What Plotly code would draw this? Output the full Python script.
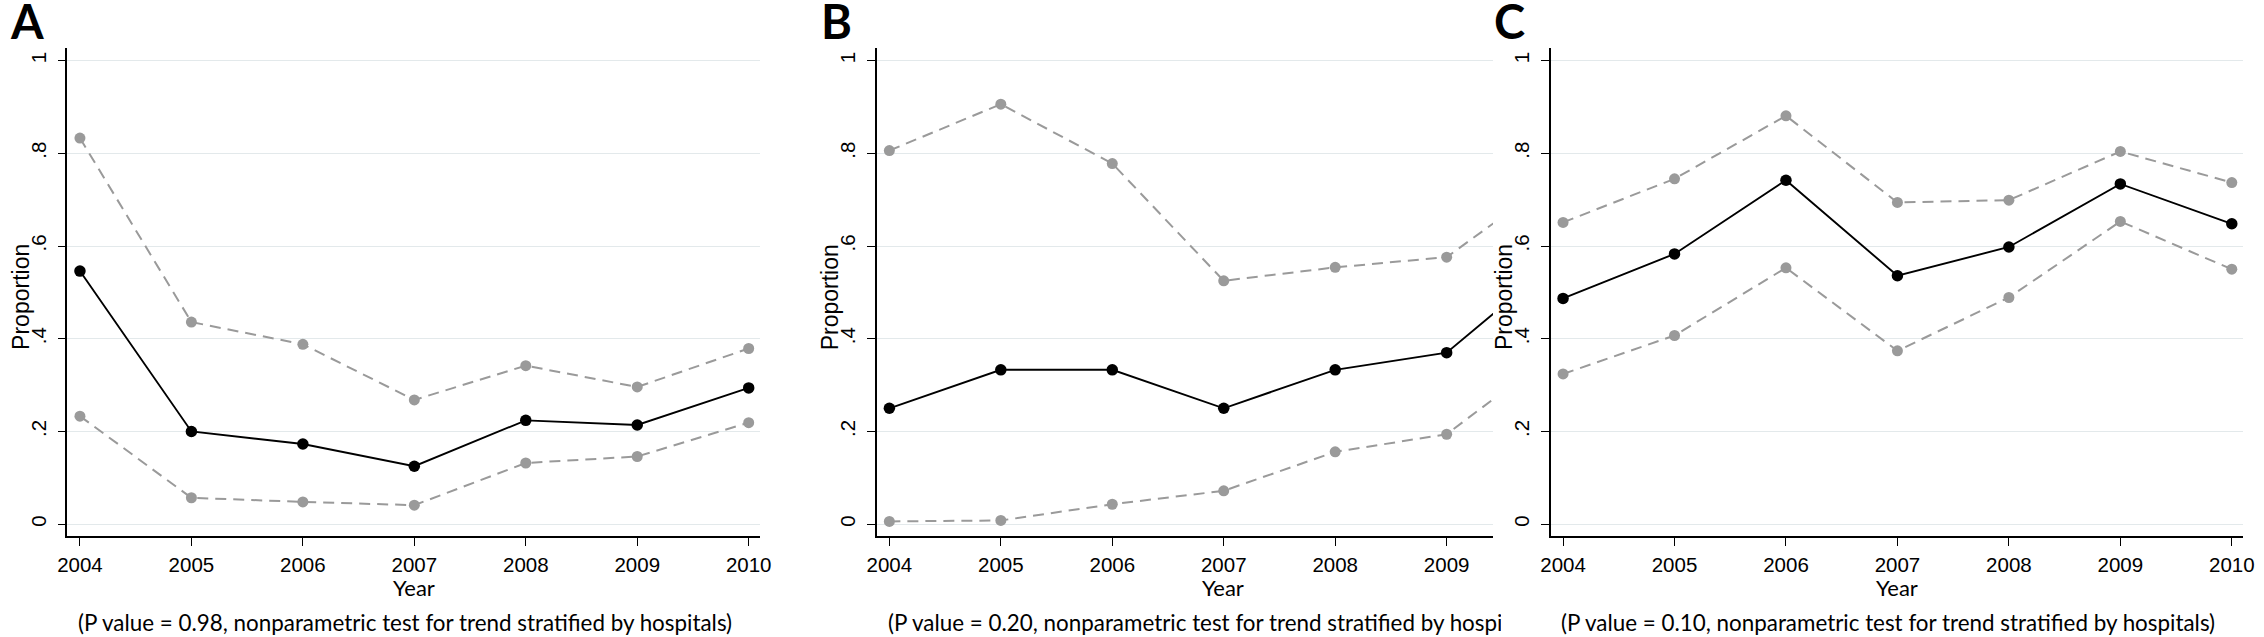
import plotly.graph_objects as go

W, H = 2264, 637

years = [2004, 2005, 2006, 2007, 2008, 2009, 2010]
ytick_vals = [0, 0.2, 0.4, 0.6, 0.8, 1]
ytick_text = ["0", ".2", ".4", ".6", ".8", "1"]

a_upper = [0.833, 0.436, 0.388, 0.268, 0.342, 0.296, 0.379]
a_est = [0.546, 0.200, 0.173, 0.125, 0.224, 0.214, 0.294]
a_lower = [0.233, 0.057, 0.048, 0.041, 0.132, 0.146, 0.219]

b_upper = [0.806, 0.906, 0.778, 0.525, 0.554, 0.576, 0.750]
b_est = [0.250, 0.333, 0.333, 0.250, 0.333, 0.370, 0.570]
b_lower = [0.006, 0.008, 0.043, 0.072, 0.156, 0.194, 0.375]

c_upper = [0.651, 0.745, 0.881, 0.694, 0.699, 0.804, 0.737]
c_est = [0.487, 0.583, 0.742, 0.536, 0.598, 0.734, 0.648]
c_lower = [0.324, 0.407, 0.553, 0.374, 0.489, 0.653, 0.550]

panel_letters = ["A", "B", "C"]
p_texts = [
    "(P value = 0.98, nonparametric test for trend stratified by hospitals)",
    "(P value = 0.20, nonparametric test for trend stratified by hospitals)",
    "(P value = 0.10, nonparametric test for trend stratified by hospitals)",
]

panels = [
    (a_lower, a_est, a_upper),
    (b_lower, b_est, b_upper),
    (c_lower, c_est, c_upper),
]

# pixel geometry of each panel: (axis_left, axis_right_visible, axis_right_full)
geo = [(58, 757, 757), (875, 1497, 1574), (1555, 2254, 2254)]
px_per_year = 112.5
first_tick = 12.6  # px from y-axis to 2004 tick
top_px, bot_px = 48, 536
y_range = [-0.0255, 1.0272]

GRAY = "#9a9a9a"
TICKFONT = dict(family="Liberation Sans, Arial, sans-serif", size=20.5, color="#000")
CAL = "Lato, Carlito, Calibri, sans-serif"

fig = go.Figure()
layout = dict(
    width=W, height=H,
    margin=dict(l=0, r=0, t=0, b=0),
    paper_bgcolor="white", plot_bgcolor="white",
    showlegend=False,
    annotations=[],
)

for i, (lo, est, up) in enumerate(panels):
    sfx = "" if i == 0 else str(i + 1)
    xa, ya = "x" + sfx, "y" + sfx
    for series in (up, lo):
        fig.add_trace(go.Scatter(
            x=years, y=series, xaxis=xa, yaxis=ya, mode="lines+markers",
            line=dict(color=GRAY, width=2, dash="11px,7px"),
            marker=dict(color=GRAY, size=11),
            cliponaxis=True,
        ))
    fig.add_trace(go.Scatter(
        x=years, y=est, xaxis=xa, yaxis=ya, mode="lines+markers",
        line=dict(color="#000", width=1.9),
        marker=dict(color="#000", size=11.5),
        cliponaxis=True,
    ))
    ax_l, ax_r, ax_full = geo[i]
    x0 = years[0] - first_tick / px_per_year
    x1 = years[0] + (ax_r - ax_l - first_tick) / px_per_year
    layout["xaxis" + sfx] = dict(
        domain=[ax_l / W, ax_r / W], anchor=ya, range=[x0, x1],
        tickvals=years, ticktext=[str(y) for y in years],
        ticks="outside", ticklen=8, tickwidth=1.3, tickcolor="#000",
        showline=True, linecolor="#000", linewidth=1.5,
        showgrid=False, zeroline=False, tickfont=TICKFONT,
        ticklabelstandoff=2,
    )
    layout["yaxis" + sfx] = dict(
        domain=[1 - bot_px / H, 1 - top_px / H], anchor=xa, range=y_range,
        tickvals=ytick_vals, ticktext=ytick_text, tickangle=-90,
        ticks="outside", ticklen=8, tickwidth=1.3, tickcolor="#000",
        showline=True, linecolor="#000", linewidth=1.5,
        showgrid=True, gridcolor="#e3e9eb", gridwidth=1.2,
        zeroline=False, tickfont=TICKFONT, ticklabelstandoff=4,
    )
    # axis titles
    layout["annotations"].append(dict(
        text="Proportion", x=(ax_l - 47) / W, y=1 - 297 / H, xref="paper", yref="paper",
        textangle=-90, showarrow=False, xanchor="center", yanchor="middle",
        font=dict(family="Liberation Sans, Arial, sans-serif", size=23, color="#000"),
    ))
    layout["annotations"].append(dict(
        text="Year", x=((ax_l + ax_full) / 2) / W, y=1 - 587 / H, xref="paper", yref="paper",
        showarrow=False, xanchor="center", yanchor="middle",
        font=dict(family=CAL, size=22, color="#000"),
    ))
    # panel letters
    layout["annotations"].append(dict(
        text="<b>%s</b>" % panel_letters[i], x=(ax_l - 41) / W, y=1 - 21 / H,
        xref="paper", yref="paper", showarrow=False, xanchor="center", yanchor="middle",
        font=dict(family=CAL, size=47, color="#000", weight=900),
    ))
    # p-value notes
    note = dict(
        text=p_texts[i], x=(ax_l + 9) / W, y=1 - 622 / H, xref="paper", yref="paper",
        showarrow=False, xanchor="left", yanchor="middle", align="left",
        font=dict(family=CAL, size=22.4, color="#000"),
    )
    if ax_r < ax_full:
        note["width"] = ax_r - ax_l - 9
    layout["annotations"].append(note)

fig.update_layout(**layout)
fig.write_html(
    "out.html",
    config={"displayModeBar": False},
    post_script="document.body.style.margin='0px';document.body.style.overflow='hidden';",
)
